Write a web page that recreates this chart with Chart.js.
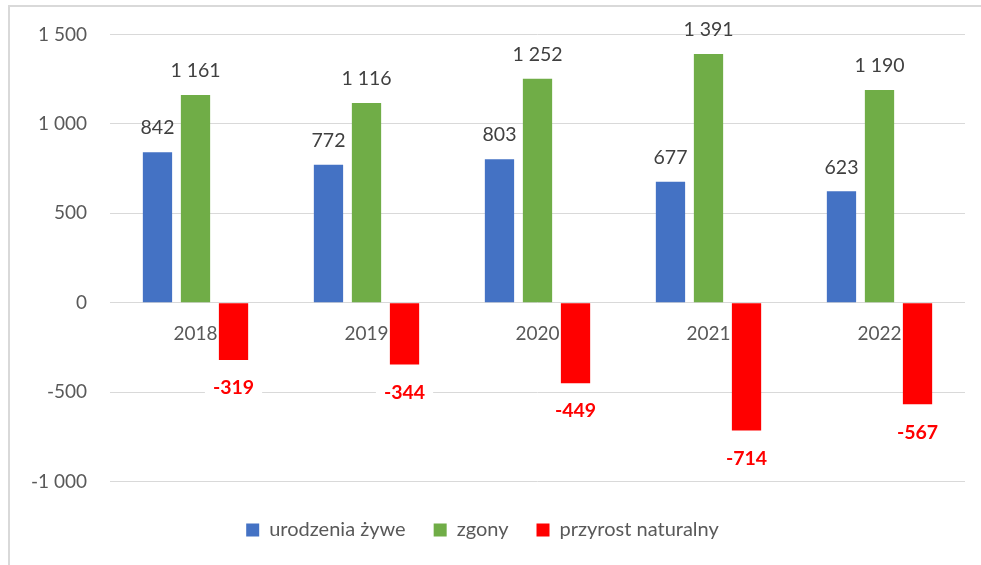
<!DOCTYPE html>
<html>
<head>
<meta charset="utf-8">
<script src="https://cdn.jsdelivr.net/npm/chart.js@4/dist/chart.umd.min.js"></script>
<style>
  html, body { margin: 0; padding: 0; background: #fff; overflow: hidden; }
  #frame { position: absolute; left: 8px; top: 5px; right: -10px; bottom: -10px; border: 2px solid #d9d9d9; }
  #wrap { position: absolute; left: 0; top: 0; width: 981px; height: 550px; }
</style>
</head>
<body>
<div id="frame"></div>
<div id="wrap"><canvas id="chart"></canvas></div>
<script>
const years = ['2018', '2019', '2020', '2021', '2022'];
const births = [842, 772, 803, 677, 623];
const deaths = [1161, 1116, 1252, 1391, 1190];
const growth = [-319, -344, -449, -714, -567];
const yTicks = [-1000, -500, 0, 500, 1000, 1500];

const FONT = 'Lato, "Open Sans", sans-serif';

function fmt(v) {
  let s = Math.abs(v).toString().replace(/\B(?=(\d{3})+(?!\d))/g, ' ');
  return (v < 0 ? '-' : '') + s;
}

// value labels above / below the bars
const valueLabels = {
  id: 'valueLabels',
  afterDatasetsDraw(chart) {
    let ctx = chart.ctx;
    ctx.save();
    ctx.textAlign = 'center';
    ctx.textBaseline = 'middle';
    chart.data.datasets.forEach((ds, i) => {
      let meta = chart.getDatasetMeta(i);
      meta.data.forEach((bar, j) => {
        let v = ds.data[j];
        let txt = fmt(v);
        if (v >= 0) {
          ctx.font = '19.5px ' + FONT;
          ctx.fillStyle = '#404040';
          ctx.fillText(txt, bar.x, bar.y - 24);
        } else {
          ctx.font = 'bold 19.5px ' + FONT;
          let w = ctx.measureText(txt).width;
          let y = bar.y + 28;
          ctx.fillStyle = '#ffffff';
          ctx.fillRect(bar.x - w / 2 - 8, y - 12, w + 16, 24);
          ctx.fillStyle = '#ff0000';
          ctx.fillText(txt, bar.x, y);
        }
      });
    });
    ctx.restore();
  }
};

new Chart(document.getElementById('chart'), {
  type: 'bar',
  data: {
    labels: years,
    datasets: [
      { label: 'urodzenia żywe', data: births, backgroundColor: '#4472c4' },
      { label: 'zgony', data: deaths, backgroundColor: '#70ad47' },
      { label: 'przyrost naturalny', data: growth, backgroundColor: '#ff0000' }
    ]
  },
  options: {
    responsive: true,
    maintainAspectRatio: false,
    animation: false,
    categoryPercentage: 0.667,
    barPercentage: 0.77,
    layout: { padding: { left: 0, right: 16, top: 34, bottom: 0 } },
    plugins: {
      tooltip: { enabled: false },
      legend: {
        position: 'bottom',
        title: { display: true, text: '', font: { size: 1 }, padding: { top: 9, bottom: 0 } },
        labels: {
          boxWidth: 13,
          boxHeight: 13,
          padding: 28,
          color: '#595959',
          font: { family: FONT, size: 20 }
        }
      }
    },
    scales: {
      x: {
        position: { y: 0 },
        grid: { display: false, drawTicks: false },
        border: { display: false },
        ticks: { color: '#595959', padding: 20, font: { family: FONT, size: 19 } }
      },
      y: {
        min: -1000,
        max: 1500,
        afterBuildTicks(scale) {
          scale.ticks = yTicks.map(v => ({ value: v }));
        },
        afterFit(scale) {
          scale.width = 110;
        },
        grid: { color: '#d9d9d9', lineWidth: 1, drawTicks: false },
        border: { display: false },
        ticks: {
          color: '#595959',
          padding: 23,
          font: { family: FONT, size: 19 },
          callback: v => fmt(v)
        }
      }
    }
  },
  plugins: [valueLabels]
});
</script>
</body>
</html>
